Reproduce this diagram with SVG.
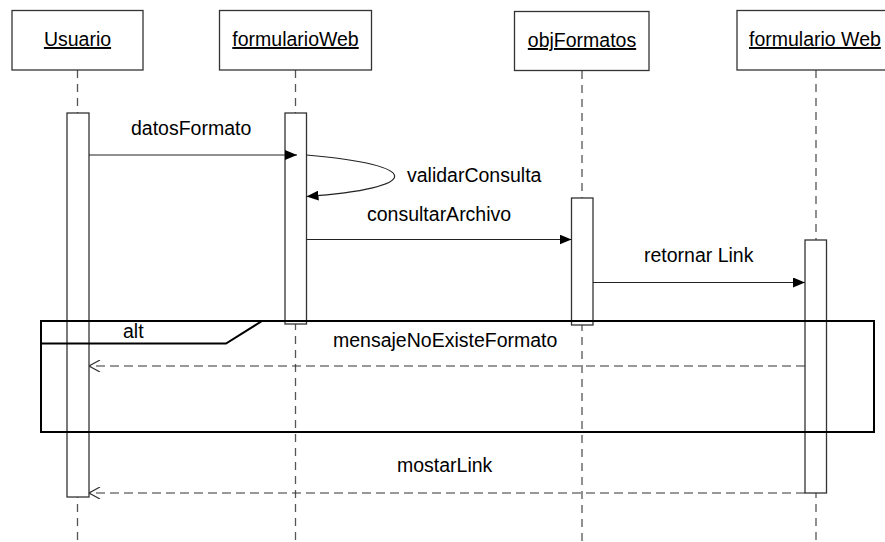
<svg xmlns="http://www.w3.org/2000/svg" width="885" height="542" viewBox="0 0 885 542">
<style>
text{font-family:"Liberation Sans",Arial,sans-serif;font-size:19.5px;fill:#000}
.obj{fill:#fff;stroke:#333;stroke-width:1.3}
.life{stroke:#555;stroke-width:1.3;stroke-dasharray:8 6;fill:none}
.act{fill:#fff;stroke:#333;stroke-width:1.3}
.msg{stroke:#222;stroke-width:1.2;fill:none}
.ret{stroke:#333;stroke-width:1.2;fill:none;stroke-dasharray:9 5}
.frame{fill:none;stroke:#000;stroke-width:2}
</style>
<defs>
<marker id="fill" viewBox="0 0 12 10" refX="12" refY="5" markerWidth="12" markerHeight="10" markerUnits="userSpaceOnUse" orient="auto">
<path d="M0,0 L12,5 L0,10 Z" fill="#000"/>
</marker>
<marker id="open" viewBox="0 0 12 12" refX="12" refY="6" markerWidth="12" markerHeight="12" markerUnits="userSpaceOnUse" orient="auto">
<path d="M1,0 L12,6 L1,12" fill="none" stroke="#333" stroke-width="1.2"/>
</marker>
</defs>
<g id="lifelines">
<line class="life" x1="77.5" y1="70" x2="77.5" y2="542"/>
<line class="life" x1="295.5" y1="70" x2="295.5" y2="542"/>
<line class="life" x1="582" y1="71" x2="582" y2="542"/>
<line class="life" x1="816" y1="70" x2="816" y2="542"/>
</g>
<g id="Usuario">
<rect class="obj" x="12" y="10.5" width="131" height="59.5"/>
<text x="77.5" y="46" text-anchor="middle" text-decoration="underline">Usuario</text>
<rect class="act" x="67" y="113" width="22" height="384"/>
</g>
<g id="formularioWeb">
<rect class="obj" x="219.5" y="10.5" width="152" height="59.5"/>
<text x="295.5" y="46" text-anchor="middle" text-decoration="underline">formularioWeb</text>
<rect class="act" x="285" y="113" width="21.5" height="211"/>
</g>
<g id="objFormatos">
<rect class="obj" x="514.5" y="11.5" width="134.5" height="59"/>
<text x="582" y="47" text-anchor="middle" text-decoration="underline">objFormatos</text>
<rect class="act" x="571.5" y="198" width="21.5" height="127"/>
</g>
<g id="formularioWeb2">
<rect class="obj" x="737" y="10.5" width="158" height="59.5"/>
<text x="749" y="46" text-decoration="underline">formulario Web</text>
<rect class="act" x="805" y="240" width="21.5" height="253"/>
</g>
<g id="alt-frame">
<rect class="frame" x="41" y="321" width="833" height="111"/>
<path class="frame" d="M41,343.5 H226 L262,321"/>
<text x="123" y="338">alt</text>
</g>
<g id="connectors">
<line class="msg" x1="89" y1="155" x2="297" y2="155" marker-end="url(#fill)"/>
<text x="131" y="135">datosFormato</text>
<path class="msg" d="M306.5,155 C424,165 424,188 306.5,196.5" marker-end="url(#fill)"/>
<text x="407" y="182">validarConsulta</text>
<line class="msg" x1="306.5" y1="239.5" x2="571.5" y2="239.5" marker-end="url(#fill)"/>
<text x="367" y="221">consultarArchivo</text>
<line class="msg" x1="593" y1="282.5" x2="805" y2="282.5" marker-end="url(#fill)"/>
<text x="644" y="262">retornar Link</text>
<line class="ret" x1="805" y1="366" x2="89" y2="366" marker-end="url(#open)"/>
<text x="333" y="347">mensajeNoExisteFormato</text>
<line class="ret" x1="805" y1="493" x2="89" y2="493" marker-end="url(#open)"/>
<text x="397" y="472">mostarLink</text>
</g>
</svg>
